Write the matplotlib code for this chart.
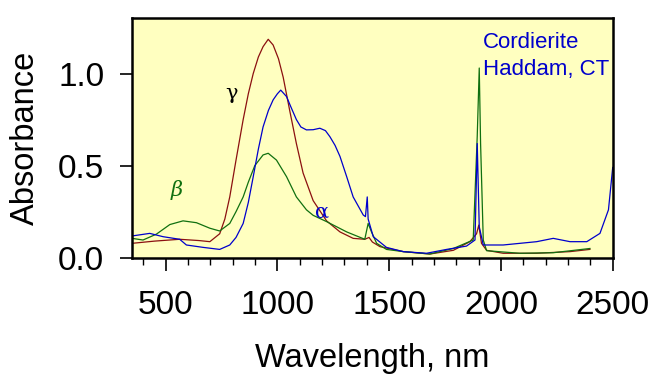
import matplotlib
matplotlib.use("Agg")
import matplotlib.pyplot as plt
from matplotlib.ticker import MultipleLocator

# gamma (maroon)
g_wl = [350, 450, 563, 650, 698, 742, 765, 787, 815, 847, 870, 892, 915, 936, 959, 981, 1005, 1026, 1055, 1085,
        1115, 1160, 1220, 1280, 1339, 1391, 1410, 1425, 1459, 1563, 1682, 1787, 1861, 1891, 1901, 1913, 1936,
        2010, 2160, 2309, 2398]
g_ab = [0.078, 0.09, 0.10, 0.093, 0.087, 0.13, 0.21, 0.33, 0.53, 0.75, 0.89, 1.0, 1.09, 1.146, 1.186, 1.155,
        1.08, 0.98, 0.80, 0.62, 0.46, 0.31, 0.20, 0.14, 0.105, 0.10, 0.11, 0.085, 0.06, 0.033, 0.02, 0.04,
        0.087, 0.13, 0.177, 0.078, 0.04, 0.024, 0.024, 0.033, 0.045]

# beta (green)
b_wl = [350, 399, 459, 519, 578, 638, 698, 742, 787, 815, 847, 870, 899, 936, 959, 996, 1041, 1085, 1130, 1160,
        1220, 1310, 1391, 1406, 1421, 1444, 1488, 1563, 1682, 1787, 1876, 1894, 1903, 1909, 1921, 1936, 2085,
        2234, 2398]
b_ab = [0.105, 0.096, 0.128, 0.18, 0.20, 0.19, 0.16, 0.145, 0.186, 0.25, 0.33, 0.41, 0.50, 0.558, 0.567, 0.53,
        0.44, 0.33, 0.26, 0.23, 0.196, 0.14, 0.10, 0.186, 0.14, 0.078, 0.045, 0.033, 0.02, 0.05, 0.096, 0.66,
        1.03, 0.62, 0.096, 0.038, 0.024, 0.027, 0.05]

# alpha (blue)
a_wl = [350, 429, 489, 563, 593, 668, 742, 787, 815, 847, 870, 892, 915, 936, 960, 981, 1000, 1015, 1041, 1060,
        1085, 1105, 1130, 1160, 1190, 1215, 1235, 1258, 1280, 1310, 1339, 1384, 1394, 1402, 1406, 1429, 1488,
        1563, 1667, 1757, 1846, 1884, 1894, 1903, 1921, 2010, 2085, 2160, 2234, 2309, 2384, 2443, 2481, 2500]
a_ab = [0.118, 0.132, 0.114, 0.10, 0.069, 0.056, 0.045, 0.069, 0.11, 0.186, 0.30, 0.44, 0.59, 0.71, 0.80, 0.857,
        0.89, 0.91, 0.875, 0.82, 0.75, 0.71, 0.694, 0.695, 0.703, 0.69, 0.657, 0.61, 0.55, 0.44, 0.33, 0.232,
        0.223, 0.33, 0.21, 0.114, 0.056, 0.033, 0.024, 0.045, 0.063, 0.096, 0.62, 0.168, 0.069, 0.069, 0.078,
        0.087, 0.105, 0.087, 0.087, 0.132, 0.26, 0.49]

x_ticks = [500, 1000, 1500, 2000, 2500]
y_ticks = [0.0, 0.5, 1.0]
y_tick_labels = ["0.0", "0.5", "1.0"]

plt.rcParams['font.family'] = ['Liberation Sans', 'DejaVu Sans']

fig = plt.figure(figsize=(6.67, 3.86), dpi=100)
fig.patch.set_facecolor('white')
ax = fig.add_axes([0.198, 0.3324, 0.7206, 0.6202])
ax.set_facecolor('#FFFFC0')

ax.plot(g_wl, g_ab, color='#8B1010', lw=0.9)
ax.plot(b_wl, b_ab, color='#107010', lw=0.9)
ax.plot(a_wl, a_ab, color='#0000CC', lw=0.9)

ax.set_xlim(350, 2500)
ax.set_ylim(0, 1.3)
ax.set_xticks(x_ticks)
ax.xaxis.set_minor_locator(MultipleLocator(100))
ax.set_yticks(y_ticks)
ax.set_yticklabels(y_tick_labels)

for s in ax.spines.values():
    s.set_linewidth(1.8)

ax.tick_params(axis='both', which='major', direction='out', length=9, width=1.2, labelsize=24, colors='black')
ax.tick_params(axis='x', which='major', pad=14)
ax.tick_params(axis='y', which='major', pad=11)
ax.tick_params(axis='x', which='minor', direction='out', length=5, width=1.0)

ax.set_xlabel('Wavelength, nm', fontsize=23.5, labelpad=16)
ax.set_ylabel('Absorbance', fontsize=23.5, labelpad=12)

ax.text(796, 0.892, 'γ', fontsize=15, color='black', ha='center', va='center', family=['DejaVu Serif'])
ax.text(550, 0.367, 'β', fontsize=15, color='#107010', ha='center', va='center', family=['DejaVu Serif'], style='italic')
ax.text(1199, 0.248, 'α', fontsize=15, color='#0000CC', ha='center', va='center', family=['DejaVu Serif'])

ax.text(1919, 1.17, 'Cordierite', fontsize=16, color='#0000CC', ha='left', va='center')
ax.text(1919, 1.02, 'Haddam, CT', fontsize=16, color='#0000CC', ha='left', va='center')

fig.savefig('out.png', dpi=100, facecolor='white')
